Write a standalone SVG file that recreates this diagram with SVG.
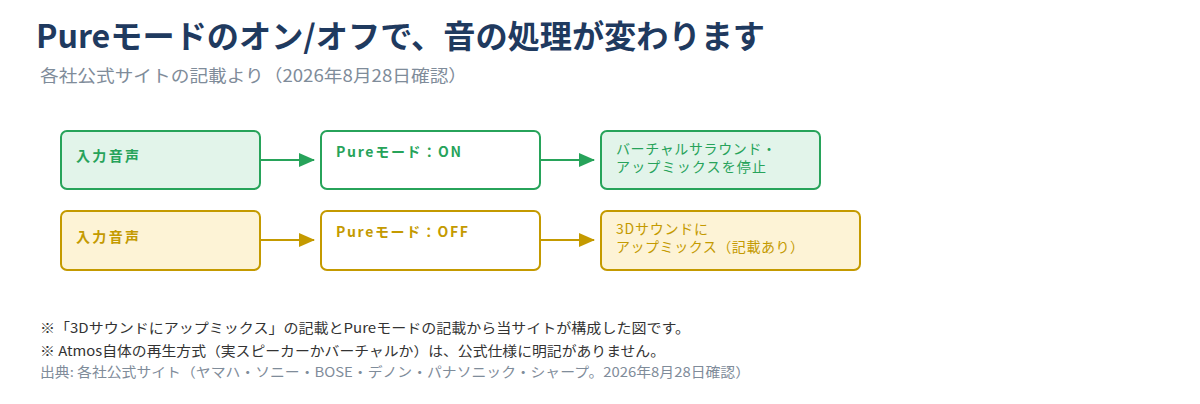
<svg xmlns="http://www.w3.org/2000/svg" width="1200" height="404" viewBox="0 0 1200 404">
<style>
text{font-family:"Noto Sans CJK JP","Noto Sans",sans-serif}
.g{stroke:#27a35a;stroke-width:2}
.y{stroke:#c49a00;stroke-width:2}
.gt{fill:#27a35a;font-size:14px}
.yt{fill:#c49a00;font-size:14px}
.b{font-weight:bold}
.n{fill:#333;font-size:13.5px}
</style>
<defs>
<marker id="ag" markerWidth="16" markerHeight="14" refX="15" refY="7" orient="auto" markerUnits="userSpaceOnUse"><path d="M0,0L16,7L0,14Z" fill="#27a35a"/></marker>
<marker id="ay" markerWidth="16" markerHeight="14" refX="15" refY="7" orient="auto" markerUnits="userSpaceOnUse"><path d="M0,0L16,7L0,14Z" fill="#c49a00"/></marker>
</defs>
<rect width="1200" height="404" fill="#fff"/>
<text x="36" y="48" font-size="32" font-weight="bold" fill="#1f3a5f" textLength="729" lengthAdjust="spacingAndGlyphs">Pureモードのオン/オフで、音の処理が変わります</text>
<text x="40" y="82" font-size="17" fill="#7f8c9a" textLength="427" lengthAdjust="spacingAndGlyphs">各社公式サイトの記載より（2026年8月28日確認）</text>
<g id="connectors">
<line class="g" x1="260" y1="160" x2="314" y2="160" marker-end="url(#ag)" stroke-width="3"/>
<line class="g" x1="540" y1="160" x2="594" y2="160" marker-end="url(#ag)" stroke-width="3"/>
<line class="y" x1="260" y1="240" x2="314" y2="240" marker-end="url(#ay)" stroke-width="3"/>
<line class="y" x1="540" y1="240" x2="594" y2="240" marker-end="url(#ay)" stroke-width="3"/>
</g>
<g id="n1"><rect class="g" x="61" y="131" width="199" height="58" rx="6" fill="#e2f4ea"/><text class="gt b" x="76" y="161" textLength="63">入力音声</text></g>
<g id="n2"><rect class="g" x="321" y="131" width="219" height="58" rx="6" fill="#fff"/><text class="gt b" x="336" y="157" textLength="125">Pureモード：ON</text></g>
<g id="n3"><rect class="g" x="601" y="131" width="219" height="58" rx="6" fill="#e2f4ea"/><text class="gt" x="616" y="154" textLength="160">バーチャルサラウンド・</text><text class="gt" x="616" y="172" textLength="150">アップミックスを停止</text></g>
<g id="n4"><rect class="y" x="61" y="211" width="199" height="59" rx="6" fill="#fdf3d6"/><text class="yt b" x="76" y="242" textLength="63">入力音声</text></g>
<g id="n5"><rect class="y" x="321" y="211" width="219" height="59" rx="6" fill="#fff"/><text class="yt b" x="336" y="237" textLength="132">Pureモード：OFF</text></g>
<g id="n6"><rect class="y" x="601" y="211" width="259" height="59" rx="6" fill="#fdf3d6"/><text class="yt" x="616" y="234" textLength="92">3Dサウンドに</text><text class="yt" x="616" y="252" textLength="188">アップミックス（記載あり）</text></g>
<text class="n" x="40" y="333" textLength="650" lengthAdjust="spacingAndGlyphs">※「3Dサウンドにアップミックス」の記載とPureモードの記載から当サイトが構成した図です。</text>
<text class="n" x="40" y="356" textLength="625" lengthAdjust="spacingAndGlyphs">※ Atmos自体の再生方式（実スピーカーかバーチャルか）は、公式仕様に明記がありません。</text>
<text x="40" y="377" font-size="13.5" fill="#7f8c9a" textLength="710" lengthAdjust="spacingAndGlyphs">出典: 各社公式サイト（ヤマハ・ソニー・BOSE・デノン・パナソニック・シャープ。2026年8月28日確認）</text>
</svg>
